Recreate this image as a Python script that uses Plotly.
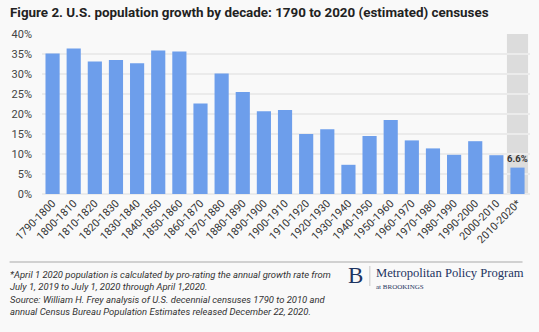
import plotly.graph_objects as go

decades = ["1790-1800", "1800-1810", "1810-1820", "1820-1830", "1830-1840", "1840-1850",
           "1850-1860", "1860-1870", "1870-1880", "1880-1890", "1890-1900", "1900-1910",
           "1910-1920", "1920-1930", "1930-1940", "1940-1950", "1950-1960", "1960-1970",
           "1970-1980", "1980-1990", "1990-2000", "2000-2010", "2010-2020*"]
growth = [35.1, 36.4, 33.1, 33.5, 32.7, 35.9, 35.6, 22.6, 30.1, 25.5, 20.7, 21.0,
          15.0, 16.2, 7.3, 14.5, 18.5, 13.4, 11.4, 9.8, 13.2, 9.7, 6.6]
y_ticks = [0, 5, 10, 15, 20, 25, 30, 35, 40]
y_tick_labels = [f"{v}%" for v in y_ticks]
title = "Figure 2. U.S. population growth by decade: 1790 to 2020 (estimated) censuses"
footnote = ("*April 1 2020 population is calculated by pro-rating the annual growth rate from<br>"
            "July 1, 2019 to July 1, 2020 through April 1,2020.<br>"
            "Source: William H. Frey analysis of U.S. decennial censuses 1790 to 2010 and<br>"
            "annual Census Bureau Population Estimates released December 22, 2020.")

L, R, T, B = 41.5, 8.5, 34, 138
PW, PH = 539 - L - R, 332 - T - B


def px(xp):
    return (xp - L) / PW


def py(yp):
    return (332 - B - yp) / PH


bg = "#f9f9f9"
fig = go.Figure()
fig.add_trace(go.Bar(x=decades, y=growth, marker=dict(color="#6d9eeb", line=dict(width=0)),
                     hoverinfo="x+y"))

# highlighted (estimated) decade band
fig.add_shape(type="rect", xref="x", yref="y", x0=len(decades) - 1.5, x1=len(decades) - 0.5,
              y0=0, y1=40, fillcolor="#dcdcdc", line=dict(width=0), layer="below")

fig.add_annotation(x=decades[-1], y=growth[-1], text=f"<b>{growth[-1]}%</b>", showarrow=False,
                   yanchor="bottom", yshift=2, font=dict(size=9.5, color="#333"))

fig.add_annotation(xref="paper", yref="paper", x=px(7), y=py(13),
                   xanchor="left", yanchor="middle", text=f"<b>{title}</b>", showarrow=False,
                   font=dict(size=13.4, color="#222", family="Roboto"))

# footer divider
fig.add_shape(type="line", xref="paper", yref="paper", x0=px(9), x1=px(523),
              y0=py(262), y1=py(262), line=dict(color="#aaaaaa", width=1.2))

fig.add_annotation(xref="paper", yref="paper", x=px(7), y=py(267),
                   xanchor="left", yanchor="top", align="left", showarrow=False,
                   text=f"<i>{footnote}</i>",
                   font=dict(size=9.45, color="#333", family="Roboto"))

navy = "#1d3461"
fig.add_annotation(xref="paper", yref="paper", x=px(356), y=py(275),
                   xanchor="center", yanchor="middle", showarrow=False, text="B",
                   font=dict(size=23, color=navy, family="Liberation Serif"))
fig.add_shape(type="line", xref="paper", yref="paper", x0=px(370), x1=px(370),
              y0=py(266), y1=py(286), line=dict(color="#c8c8c8", width=1))
fig.add_annotation(xref="paper", yref="paper", x=px(374), y=py(273),
                   xanchor="left", yanchor="middle", showarrow=False,
                   text="Metropolitan Policy Program",
                   font=dict(size=12.6, color=navy, family="Liberation Serif"))
fig.add_annotation(xref="paper", yref="paper", x=px(374), y=py(287),
                   xanchor="left", yanchor="middle", showarrow=False,
                   text="at BROOKINGS",
                   font=dict(size=7, color=navy, family="Liberation Serif"))

fig.update_layout(
    width=539, height=332,
    margin=dict(l=L, r=R, t=T, b=B),
    paper_bgcolor=bg, plot_bgcolor=bg,
    font=dict(family="Roboto", color="#444"),
    bargap=0.33,
    showlegend=False,
    xaxis=dict(tickangle=-45, tickfont=dict(size=10.8, color="#333"), showgrid=False,
               showline=False, ticks="", fixedrange=True),
    yaxis=dict(range=[0, 40], tickvals=y_ticks, ticktext=y_tick_labels,
               tickfont=dict(size=11, color="#444"), gridcolor="#ebebeb", gridwidth=1.8,
               zeroline=True, zerolinecolor="#ebebeb", zerolinewidth=1.8, ticks="",
               ticklabelstandoff=9),
)

fig.write_html("out.html")
